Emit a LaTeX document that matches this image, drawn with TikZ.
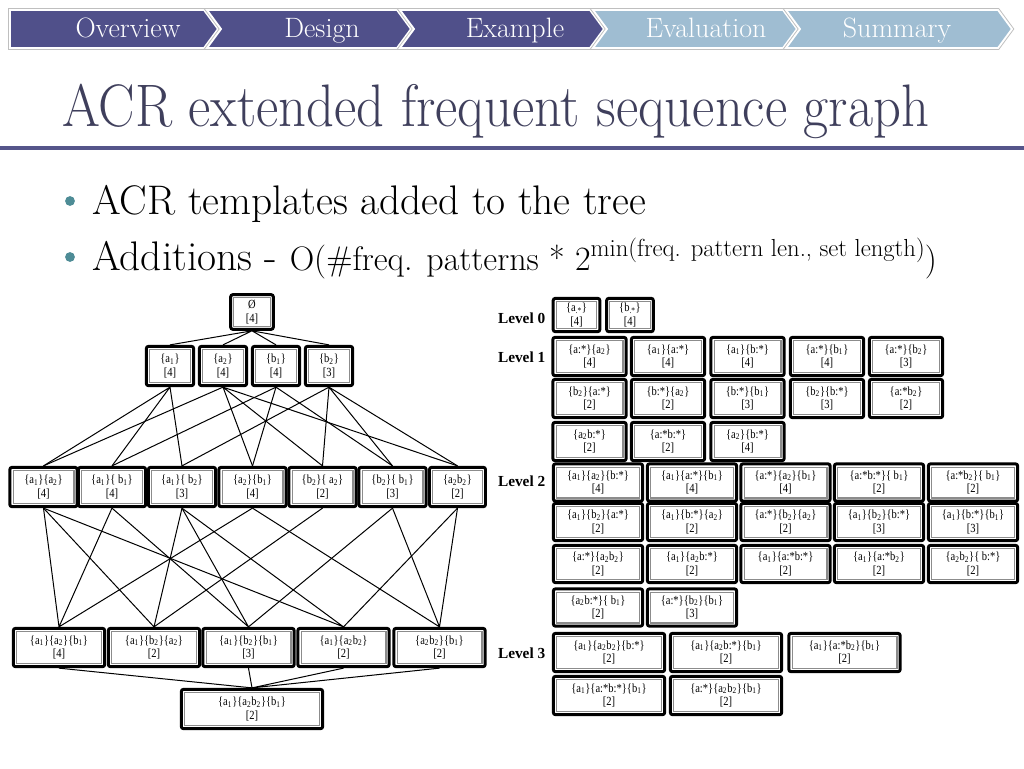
\documentclass[tikz,border=0pt]{standalone}
\usepackage{fontspec}
\usepackage{graphicx}
\newfontfamily\lvlfont{Liberation Serif}
\newfontfamily\boxfont[FakeStretch=0.85]{Liberation Serif}
\usetikzlibrary{positioning}
\definecolor{navdark}{HTML}{50508A}
\definecolor{navlight}{HTML}{9FBDD2}
\definecolor{titlecol}{HTML}{3F3F5C}
\definecolor{rulecol}{HTML}{55558A}
\definecolor{bulletcol}{HTML}{4E8C96}
\tikzset{
  navdk/.style={fill=navdark, draw=white, line width=1.4pt, preaction={draw=black!25, line width=2.8pt}},
  navlt/.style={navdk, fill=navlight},
  navtext/.style={anchor=base, text=white, font=\fontsize{21}{24}\selectfont},
  seqbox/.style={draw, line width=2.2pt, rounded corners=1.6pt, fill=white, inner sep=0pt, align=center,
    font=\boxfont\fontsize{9.3}{10}\selectfont,
    path picture={\draw[black!45, line width=0.8pt, sharp corners] ([shift={(2.4pt,-2.4pt)}]path picture bounding box.north west) rectangle ([shift={(-2.4pt,2.4pt)}]path picture bounding box.south east);}},
  rootbox/.style={seqbox, minimum width=32pt, minimum height=26pt},
  latone/.style={seqbox, minimum width=35.5pt, minimum height=29.5pt},
  lattwo/.style={seqbox, minimum width=50.5pt, minimum height=29.5pt},
  latthree/.style={seqbox, minimum width=68.5pt, minimum height=28.75pt},
  latfour/.style={seqbox, minimum width=106pt, minimum height=29.5pt},
  tplzero/.style={seqbox, minimum width=35pt, minimum height=25pt},
  tplone/.style={seqbox, minimum width=55pt, minimum height=28.75pt},
  tpltwo/.style={seqbox, minimum width=67pt, minimum height=28pt},
  tplthree/.style={seqbox, minimum width=83.5pt, minimum height=28.75pt},
  link/.style={line width=0.75pt},
  lvl/.style={anchor=east, font=\lvlfont\bfseries\fontsize{11.5}{13}\selectfont}
}
\newcommand{\sq}[1]{\textsubscript{#1}}
\newcommand{\evt}[1]{\{#1\}}
\newcommand{\cnt}[1]{[#1]}

\begin{document}
\begin{tikzpicture}[x=0.75pt, y=-0.75pt]
  \fill[white] (0,0) rectangle (1024,768);
  \useasboundingbox (0,0) rectangle (1024,768);

  % navigation bar
  \path[navdk] (10,10) -- (204,10) -- (218,29) -- (204,48) -- (10,48) -- cycle;
  \path[navdk] (207,10) -- (397,10) -- (411,29) -- (397,48) -- (207,48) -- (221,29) -- cycle;
  \path[navdk] (400,10) -- (590,10) -- (604,29) -- (590,48) -- (400,48) -- (414,29) -- cycle;
  \path[navlt] (593,10) -- (783,10) -- (797,29) -- (783,48) -- (593,48) -- (607,29) -- cycle;
  \path[navlt] (786,10) -- (998,10) -- (1012,29) -- (998,48) -- (786,48) -- (800,29) -- cycle;
  \node[navtext] (nav1) at (128,37) {Overview};
  \node[navtext] (nav2) at (322,37) {Design};
  \node[navtext] (nav3) at (515,37) {Example};
  \node[navtext] (nav4) at (706,37) {Evaluation};
  \node[navtext] (nav5) at (897,37) {Summary};

  % title
  \node[anchor=base west, inner sep=0pt, text=titlecol, font=\fontsize{45}{50}\selectfont] (title) at (62,126) {\scalebox{0.91}[1]{ACR extended frequent sequence graph}};
  \draw[rulecol, line width=3pt] (0,148) -- (1024,148);

  % bullets
  \node[circle, fill=bulletcol, inner sep=2.6pt] (dot1) at (70,201) {};
  \node[circle, fill=bulletcol, inner sep=2.6pt] (dot2) at (70,257) {};
  \node[anchor=base west, inner sep=0pt, font=\fontsize{31}{36}\selectfont] (bul1) at (92,214) {ACR templates added to the tree};
  \node[anchor=base west, inner sep=0pt, font=\fontsize{31}{36}\selectfont] (bul2) at (92,270) {Additions - {\fontsize{25.5}{30}\selectfont O(\#freq. patterns * 2\raisebox{10pt}{\fontsize{18.5}{21}\selectfont min(freq. pattern len., set length)})}};

  % frequent sequence lattice
  \node[rootbox] (emp) at (252,312) {\O\\\cnt{4}};

  \node[latone] (a1) at (170,366) {\evt{a\sq1}\\\cnt{4}};
  \node[latone] (a2) at (223,366) {\evt{a\sq2}\\\cnt{4}};
  \node[latone] (b1) at (276,366) {\evt{b\sq1}\\\cnt{4}};
  \node[latone] (b2) at (329,366) {\evt{b\sq2}\\\cnt{3}};

  \node[lattwo] (a1a2) at (43.5,487) {\evt{a\sq1}\evt{a\sq2}\\\cnt{4}};
  \node[lattwo] (a1b1) at (112,487) {\evt{a\sq1}\evt{ b\sq1}\\\cnt{4}};
  \node[lattwo] (a1b2) at (182,487) {\evt{a\sq1}\evt{ b\sq2}\\\cnt{3}};
  \node[lattwo] (a2b1) at (252.5,487) {\evt{a\sq2}\evt{b\sq1}\\\cnt{4}};
  \node[lattwo] (b2a2) at (322.5,487) {\evt{b\sq2}\evt{ a\sq2}\\\cnt{2}};
  \node[lattwo] (b2b1) at (392.5,487) {\evt{b\sq2}\evt{ b\sq1}\\\cnt{3}};
  \node[lattwo, minimum width=42pt] (ab) at (457.5,487) {\evt{a\sq2b\sq2}\\\cnt{2}};

  \node[latthree] (a1a2b1) at (59,647.5) {\evt{a\sq1}\evt{a\sq2}\evt{b\sq1}\\\cnt{4}};
  \node[latthree] (a1b2a2) at (154,647.5) {\evt{a\sq1}\evt{b\sq2}\evt{a\sq2}\\\cnt{2}};
  \node[latthree] (a1b2b1) at (248.5,647.5) {\evt{a\sq1}\evt{b\sq2}\evt{b\sq1}\\\cnt{3}};
  \node[latthree] (a1ab) at (343.5,647.5) {\evt{a\sq1}\evt{a\sq2b\sq2}\\\cnt{2}};
  \node[latthree] (abb1) at (439.5,647.5) {\evt{a\sq2b\sq2}\evt{b\sq1}\\\cnt{2}};

  \node[latfour] (a1abb1) at (252,709) {\evt{a\sq1}\evt{a\sq2b\sq2}\evt{b\sq1}\\\cnt{2}};

  \draw[link] (emp.south) -- (a1.north) (emp.south) -- (a2.north) (emp.south) -- (b1.north) (emp.south) -- (b2.north);
  \draw[link] (a1.south) -- (a1a2.north) (a1.south) -- (a1b1.north) (a1.south) -- (a1b2.north);
  \draw[link] (a2.south) -- (a1a2.north) (a2.south) -- (a2b1.north) (a2.south) -- (b2a2.north) (a2.south) -- (ab.north);
  \draw[link] (b1.south) -- (a1b1.north) (b1.south) -- (a2b1.north) (b1.south) -- (b2b1.north);
  \draw[link] (b2.south) -- (a1b2.north) (b2.south) -- (b2a2.north) (b2.south) -- (b2b1.north) (b2.south) -- (ab.north);
  \draw[link] (a1a2.south) -- (a1a2b1.north) (a1b1.south) -- (a1a2b1.north) (a2b1.south) -- (a1a2b1.north);
  \draw[link] (a1b2.south) -- (a1b2a2.north) (b2a2.south) -- (a1b2a2.north) (a1a2.south) -- (a1b2a2.north);
  \draw[link] (a1b2.south) -- (a1b2b1.north) (b2b1.south) -- (a1b2b1.north) (a1b1.south) -- (a1b2b1.north);
  \draw[link] (a1a2.south) -- (a1ab.north) (a1b2.south) -- (a1ab.north) (ab.south) -- (a1ab.north);
  \draw[link] (a2b1.south) -- (abb1.north) (b2b1.south) -- (abb1.north) (ab.south) -- (abb1.north);
  \draw[link] (a1a2b1.south) -- (a1abb1.north) (a1b2b1.south) -- (a1abb1.north) (a1ab.south) -- (a1abb1.north) (abb1.south) -- (a1abb1.north);

  % ACR templates per level
  \node[lvl] (lv0) at (550,318) {Level 0};
  \node[lvl] (lv1) at (550,357) {Level 1};
  \node[lvl] (lv2) at (550,481) {Level 2};
  \node[lvl] (lv3) at (550,653) {Level 3};

  \node[tplzero] (zero1) at (576.5,315) {\evt{a\sq{.*}}\\\cnt{4}};
  \node[tplzero] (zero2) at (630,315) {\evt{b\sq{.*}}\\\cnt{4}};

  \node[tplone] (one1) at (589.5,356.5) {\evt{a:*}\evt{a\sq2}\\\cnt{4}};
  \node[tplone] (one2) at (668,356.5) {\evt{a\sq1}\evt{a:*}\\\cnt{4}};
  \node[tplone] (one3) at (747.5,356.5) {\evt{a\sq1}\evt{b:*}\\\cnt{4}};
  \node[tplone] (one4) at (827,356.5) {\evt{a:*}\evt{b\sq1}\\\cnt{4}};
  \node[tplone] (one5) at (906,356.5) {\evt{a:*}\evt{b\sq2}\\\cnt{3}};
  \node[tplone] (one6) at (589.5,398.5) {\evt{b\sq2}\evt{a:*}\\\cnt{2}};
  \node[tplone] (one7) at (668,398.5) {\evt{b:*}\evt{a\sq2}\\\cnt{2}};
  \node[tplone] (one8) at (747.5,398.5) {\evt{b:*}\evt{b\sq1}\\\cnt{3}};
  \node[tplone] (one9) at (827,398.5) {\evt{b\sq2}\evt{b:*}\\\cnt{3}};
  \node[tplone] (one10) at (906,398.5) {\evt{a:*b\sq2}\\\cnt{2}};
  \node[tplone] (one11) at (589.5,441.5) {\evt{a\sq2b:*}\\\cnt{2}};
  \node[tplone] (one12) at (668,441.5) {\evt{a:*b:*}\\\cnt{2}};
  \node[tplone] (one13) at (747.5,441.5) {\evt{a\sq2}\evt{b:*}\\\cnt{4}};

  \node[tpltwo] (two1) at (598,482.5) {\evt{a\sq1}\evt{a\sq2}\evt{b:*}\\\cnt{4}};
  \node[tpltwo] (two2) at (692,482.5) {\evt{a\sq1}\evt{a:*}\evt{b\sq1}\\\cnt{4}};
  \node[tpltwo] (two3) at (785.5,482.5) {\evt{a:*}\evt{a\sq2}\evt{b\sq1}\\\cnt{4}};
  \node[tpltwo] (two4) at (879,482.5) {\evt{a:*b:*}\evt{ b\sq1}\\\cnt{2}};
  \node[tpltwo] (two5) at (973,482.5) {\evt{a:*b\sq2}\evt{ b\sq1}\\\cnt{2}};
  \node[tpltwo] (two6) at (598,522) {\evt{a\sq1}\evt{b\sq2}\evt{a:*}\\\cnt{2}};
  \node[tpltwo] (two7) at (692,522) {\evt{a\sq1}\evt{b:*}\evt{a\sq2}\\\cnt{2}};
  \node[tpltwo] (two8) at (785.5,522) {\evt{a:*}\evt{b\sq2}\evt{a\sq2}\\\cnt{2}};
  \node[tpltwo] (two9) at (879,522) {\evt{a\sq1}\evt{b\sq2}\evt{b:*}\\\cnt{3}};
  \node[tpltwo] (two10) at (973,522) {\evt{a\sq1}\evt{b:*}\evt{b\sq1}\\\cnt{3}};
  \node[tpltwo] (two11) at (598,564) {\evt{a:*}\evt{a\sq2b\sq2}\\\cnt{2}};
  \node[tpltwo] (two12) at (692,564) {\evt{a\sq1}\evt{a\sq2b:*}\\\cnt{2}};
  \node[tpltwo] (two13) at (785.5,564) {\evt{a\sq1}\evt{a:*b:*}\\\cnt{2}};
  \node[tpltwo] (two14) at (879,564) {\evt{a\sq1}\evt{a:*b\sq2}\\\cnt{2}};
  \node[tpltwo] (two15) at (973,564) {\evt{a\sq2b\sq2}\evt{ b:*}\\\cnt{2}};
  \node[tpltwo] (two16) at (598,607.5) {\evt{a\sq2b:*}\evt{ b\sq1}\\\cnt{2}};
  \node[tpltwo] (two17) at (692,607.5) {\evt{a:*}\evt{b\sq2}\evt{b\sq1}\\\cnt{3}};

  \node[tplthree] (three1) at (609,652.5) {\evt{a\sq1}\evt{a\sq2b\sq2}\evt{b:*}\\\cnt{2}};
  \node[tplthree] (three2) at (726,652.5) {\evt{a\sq1}\evt{a\sq2b:*}\evt{b\sq1}\\\cnt{2}};
  \node[tplthree] (three3) at (844.5,652.5) {\evt{a\sq1}\evt{a:*b\sq2}\evt{b\sq1}\\\cnt{2}};
  \node[tplthree] (three4) at (609,695.5) {\evt{a\sq1}\evt{a:*b:*}\evt{b\sq1}\\\cnt{2}};
  \node[tplthree] (three5) at (726,695.5) {\evt{a:*}\evt{a\sq2b\sq2}\evt{b\sq1}\\\cnt{2}};
\end{tikzpicture}
\end{document}
